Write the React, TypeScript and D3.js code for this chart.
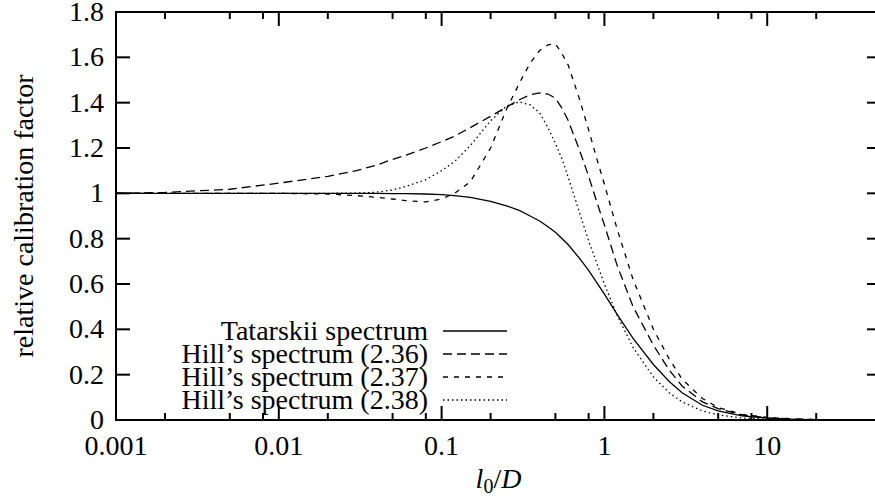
import React from "react";
import * as d3 from "d3";

const xValues = [0.001, 0.002, 0.005, 0.01, 0.02, 0.03, 0.04, 0.05, 0.06, 0.08, 0.1, 0.12, 0.15, 0.2, 0.25, 0.3, 0.35, 0.4, 0.45, 0.5, 0.55, 0.6, 0.7, 0.8, 0.9, 1, 1.2, 1.5, 2, 2.5, 3, 4, 5, 7, 10, 15, 20, 30, 50];

const tatarskii = [1.0, 1.0, 1.0, 1.0, 1.0, 1.0, 1.0, 0.999, 0.999, 0.997, 0.994, 0.99, 0.982, 0.965, 0.945, 0.925, 0.9, 0.878, 0.853, 0.828, 0.8, 0.773, 0.715, 0.66, 0.605, 0.555, 0.465, 0.36, 0.245, 0.17, 0.12, 0.065, 0.04, 0.018, 0.008, 0.003, 0.0015, 0.0005, 0.0001];

const hill236 = [1.0, 1.004, 1.018, 1.045, 1.075, 1.1, 1.125, 1.15, 1.168, 1.2, 1.228, 1.252, 1.29, 1.34, 1.38, 1.413, 1.435, 1.443, 1.438, 1.42, 1.375, 1.32, 1.195, 1.075, 0.96, 0.86, 0.68, 0.5, 0.33, 0.22, 0.15, 0.08, 0.05, 0.022, 0.01, 0.004, 0.002, 0.0007, 0.0001];

const hill237 = [1.0, 1.0, 1.0, 1.0, 0.997, 0.99, 0.982, 0.975, 0.968, 0.962, 0.975, 1.0, 1.05, 1.2, 1.37, 1.485, 1.575, 1.63, 1.655, 1.66, 1.615, 1.565, 1.42, 1.28, 1.15, 1.04, 0.84, 0.62, 0.4, 0.27, 0.18, 0.095, 0.055, 0.025, 0.011, 0.004, 0.002, 0.0007, 0.0001];

const hill238 = [1.0, 1.0, 1.0, 1.0, 1.0, 1.001, 1.005, 1.015, 1.03, 1.06, 1.1, 1.14, 1.21, 1.32, 1.385, 1.403, 1.39, 1.355, 1.29, 1.22, 1.15, 1.07, 0.92, 0.79, 0.69, 0.6, 0.46, 0.32, 0.19, 0.12, 0.08, 0.04, 0.022, 0.009, 0.004, 0.0015, 0.0007, 0.0002, 0.0];

const seriesNames = ["Tatarskii spectrum", "Hill’s spectrum (2.36)", "Hill’s spectrum (2.37)", "Hill’s spectrum (2.38)"];
const seriesDash = ["none", "9,5", "5,6", "1.5,3"];

const xMajorTicks = [0.001, 0.01, 0.1, 1, 10];
const xTickLabels = ["0.001", "0.01", "0.1", "1", "10"];
const xMinorMultipliers = [2, 5, 8];
const yTicks = [0, 0.2, 0.4, 0.6, 0.8, 1, 1.2, 1.4, 1.6, 1.8];
const yTickLabels = ["0", "0.2", "0.4", "0.6", "0.8", "1", "1.2", "1.4", "1.6", "1.8"];

const W = 875;
const H = 503;
const left = 116;
const right = 881;
const top = 12;
const bottom = 420;
const FONT = "Liberation Serif";
const FS = 28;

export default function App() {
  const x = d3.scaleLog().domain([0.001, 50]).range([left, right]);
  const y = d3.scaleLinear().domain([0, 1.8]).range([bottom, top]);
  const allSeries = [tatarskii, hill236, hill237, hill238];
  const line = d3
    .line<number>()
    .x((_, i) => x(xValues[i]))
    .y((d) => y(d));

  const minorTicks: number[] = [];
  xMajorTicks.forEach((m) => {
    xMinorMultipliers.forEach((k) => {
      const v = m * k;
      if (v < 50) minorTicks.push(v);
    });
  });

  const legendRows = [331, 354, 377, 400];

  return (
    <svg
      width={W}
      height={H}
      style={{ position: "fixed", left: 0, top: 0, background: "#fff" }}
      fontFamily={FONT}
    >
      <rect x={0} y={0} width={W} height={H} fill="#fff" />
      <defs>
        <clipPath id="plotclip">
          <rect x={left} y={top} width={right - left} height={bottom - top} />
        </clipPath>
      </defs>
      <g clipPath="url(#plotclip)">
        {allSeries.map((s, i) => (
          <path
            key={i}
            d={line(s) || ""}
            fill="none"
            stroke="#000"
            strokeWidth={1.3}
            strokeDasharray={seriesDash[i]}
          />
        ))}
      </g>
      <g stroke="#000" strokeWidth={2}>
        {xMajorTicks.map((t) => (
          <g key={"xm" + t}>
            <line x1={x(t)} x2={x(t)} y1={bottom} y2={bottom - 14} />
            <line x1={x(t)} x2={x(t)} y1={top} y2={top + 14} />
          </g>
        ))}
        {minorTicks.map((t) => (
          <g key={"xn" + t}>
            <line x1={x(t)} x2={x(t)} y1={bottom} y2={bottom - 7} />
            <line x1={x(t)} x2={x(t)} y1={top} y2={top + 7} />
          </g>
        ))}
        {yTicks.map((t) => (
          <g key={"y" + t}>
            <line x1={left} x2={left + 14} y1={y(t)} y2={y(t)} />
            <line x1={right} x2={right - 14} y1={y(t)} y2={y(t)} />
          </g>
        ))}
      </g>
      <rect
        x={left}
        y={top}
        width={right - left}
        height={bottom - top}
        fill="none"
        stroke="#000"
        strokeWidth={2}
      />
      <g fontSize={FS} fill="#000">
        {xMajorTicks.map((t, i) => (
          <text key={"xl" + t} x={x(t)} y={455} textAnchor="middle">
            {xTickLabels[i]}
          </text>
        ))}
        {yTicks.map((t, i) => (
          <text key={"yl" + t} x={104} y={y(t) + 9} textAnchor="end">
            {yTickLabels[i]}
          </text>
        ))}
      </g>
      <text
        fontSize={FS}
        textAnchor="middle"
        transform={`translate(33, ${(top + bottom) / 2}) rotate(-90)`}
      >
        relative calibration factor
      </text>
      <text x={(left + right) / 2} y={488} fontSize={FS} textAnchor="middle">
        <tspan fontStyle="italic">l</tspan>
        <tspan fontSize={20} dy={5}>0</tspan>
        <tspan dy={-5}>/</tspan>
        <tspan fontStyle="italic">D</tspan>
      </text>
      <g>
        {seriesNames.map((n, i) => (
          <g key={n}>
            <text x={428} y={legendRows[i] + 9} fontSize={FS} textAnchor="end">
              {n}
            </text>
            <line
              x1={443}
              x2={507}
              y1={legendRows[i]}
              y2={legendRows[i]}
              stroke="#000"
              strokeWidth={1.3}
              strokeDasharray={seriesDash[i]}
            />
          </g>
        ))}
      </g>
    </svg>
  );
}
